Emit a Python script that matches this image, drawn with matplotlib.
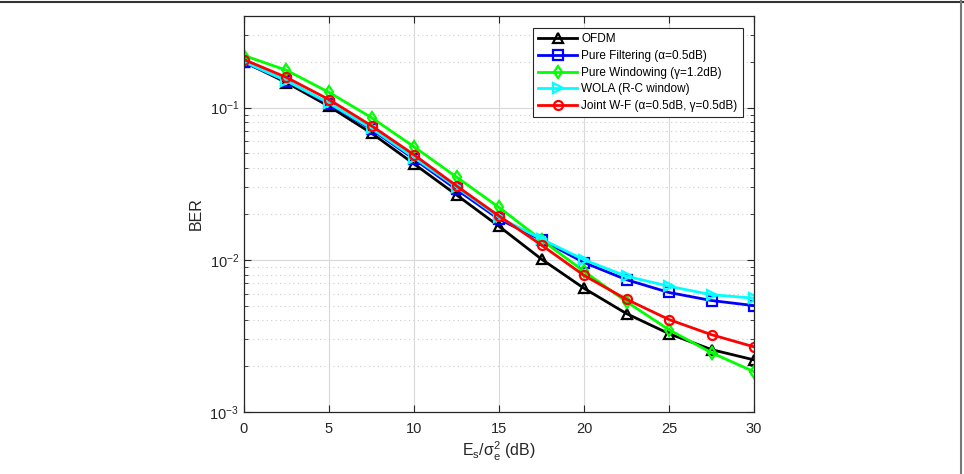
import matplotlib
matplotlib.use("Agg")
import matplotlib.pyplot as plt
from matplotlib.lines import Line2D
from matplotlib.ticker import LogLocator, NullFormatter

plt.rcParams['font.family'] = ['Liberation Sans', 'DejaVu Sans']
plt.rcParams['mathtext.fontset'] = 'custom'
plt.rcParams['mathtext.rm'] = 'Liberation Sans'
plt.rcParams['mathtext.it'] = 'Liberation Sans'

snr_db = [0, 2.5, 5, 7.5, 10, 12.5, 15, 17.5, 20, 22.5, 25, 27.5, 30]

ber_ofdm = [0.200, 0.146, 0.102, 0.068, 0.0427, 0.0267, 0.0166, 0.0101,
            0.0065, 0.00443, 0.00327, 0.00257, 0.00220]
ber_filter = [0.198, 0.150, 0.106, 0.072, 0.0460, 0.0290, 0.0185, 0.0135,
              0.0096, 0.0074, 0.0061, 0.0054, 0.0050]
ber_window = [0.220, 0.176, 0.126, 0.086, 0.0553, 0.0350, 0.0221, 0.0135,
              0.0084, 0.0053, 0.00347, 0.00245, 0.00184]
ber_wola = [0.200, 0.150, 0.107, 0.073, 0.0470, 0.0300, 0.0190, 0.0137,
            0.0100, 0.0078, 0.0067, 0.0059, 0.0056]
ber_joint = [0.207, 0.158, 0.113, 0.076, 0.0490, 0.0306, 0.0194, 0.0125,
             0.0079, 0.0055, 0.00405, 0.00322, 0.00268]

series = [
    ("OFDM", ber_ofdm, "black", "^"),
    ("Pure Filtering (α=0.5dB)", ber_filter, "blue", "s"),
    ("Pure Windowing (γ=1.2dB)", ber_window, "#00ff00", "d"),
    ("WOLA (R-C window)", ber_wola, "cyan", ">"),
    ("Joint W-F (α=0.5dB, γ=0.5dB)", ber_joint, "red", "o"),
]

fig = plt.figure(figsize=(9.64, 4.74), dpi=100)
ax = fig.add_axes([0.2531, 0.1308, 0.5291, 0.8354])

for name, vals, color, marker in series:
    ax.plot(snr_db, vals, color=color, marker=marker, markersize=6.5,
            markerfacecolor='none', markeredgewidth=1.6, linewidth=2,
            label=name)

ax.set_yscale('log')
ax.set_xlim(0, 30)
ax.set_ylim(1e-3, 0.4)
ax.set_xticks([0, 5, 10, 15, 20, 25, 30])
ax.yaxis.set_major_locator(LogLocator(base=10, numticks=10))
ax.yaxis.set_minor_locator(LogLocator(base=10, subs=range(2, 10), numticks=10))
ax.yaxis.set_minor_formatter(NullFormatter())

ax.grid(True, which='major', color='#d9d9d9', linewidth=0.8, linestyle='-')
ax.grid(True, which='minor', axis='y', color='#cccccc', linewidth=0.8,
        linestyle=(0, (1, 3)))
ax.set_axisbelow(True)

ax.tick_params(which='both', direction='in', top=True, right=True,
               labelsize=10.5, colors='#262626')
ax.tick_params(axis='x', pad=7)
ax.tick_params(which='minor', length=3)
ax.tick_params(which='major', length=5)
for sp in ax.spines.values():
    sp.set_color('#262626')
    sp.set_linewidth(0.9)

ax.set_xlabel(r'$\mathregular{E_s/\sigma_e^2}$ (dB)', fontsize=11.5,
              color='#262626', labelpad=3)
ax.set_ylabel('BER', fontsize=11.5, color='#262626')

leg = ax.legend(loc='upper right', fontsize=8.5, fancybox=False,
                framealpha=1, edgecolor='#262626', borderpad=0.45,
                handlelength=3.3, labelspacing=0.4, handletextpad=0.35,
                borderaxespad=0, bbox_to_anchor=(0.978, 0.97))
leg.get_frame().set_linewidth(0.8)

fig.add_artist(Line2D([0, 1], [0.996, 0.996], color='#333333', linewidth=1.5,
                      transform=fig.transFigure))
fig.add_artist(Line2D([0.997, 0.997], [0, 1], color='#777777', linewidth=1.5,
                      transform=fig.transFigure))

fig.savefig("out.png", dpi=100)
